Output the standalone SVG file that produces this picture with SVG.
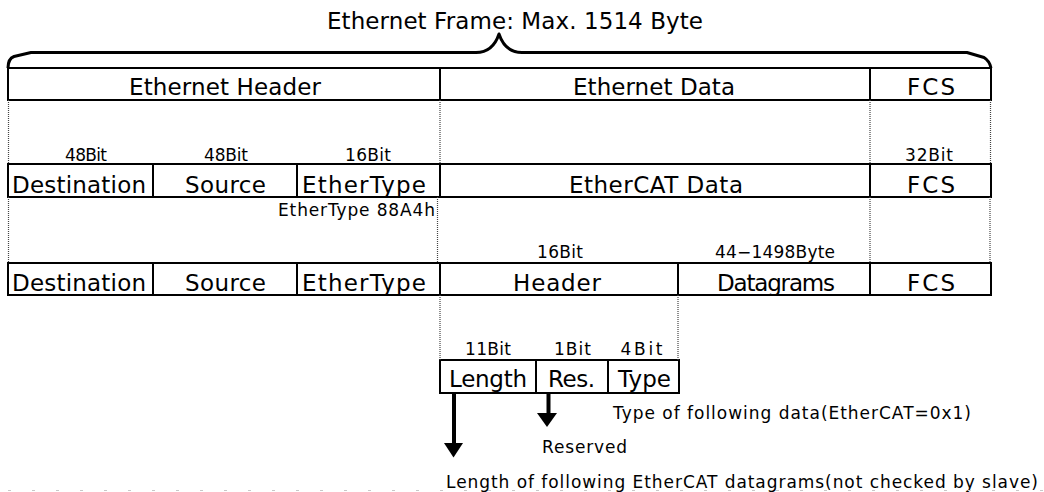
<svg xmlns="http://www.w3.org/2000/svg" width="1044" height="492" viewBox="0 0 1044 492">
<defs>
<style>
.cell{fill:#fff;stroke:#000;stroke-width:2}
.big{font-family:"DejaVu Sans",sans-serif;font-size:23px;fill:#000;text-anchor:middle}
.sm{font-family:"DejaVu Sans",sans-serif;font-size:17px;fill:#000;text-anchor:middle}
.lt{font-family:"DejaVu Sans",sans-serif;font-size:17px;fill:#000;text-anchor:start}
.dot{stroke:#444;stroke-width:1.2;stroke-dasharray:1 1;fill:none}
.arr{stroke:#000;stroke-width:4;fill:none}
</style>
</defs>
<rect width="1044" height="492" fill="#fff"/>

<g id="title">
<text class="big" x="515" y="29" textLength="376" lengthAdjust="spacing">Ethernet Frame: Max. 1514 Byte</text>
</g>
<g id="brace">
<path d="M8,68 C8,61 10,58 14,56.5 L31,52.5 L476,52.5 C488,52.5 495,46 499,34 C503,46 510,52.5 522,52.5 L967,52.5 L984,57.5 C988,60 990,63 991,68" fill="none" stroke="#000" stroke-width="3" stroke-linejoin="round"/>
</g>

<g id="eth-header"><rect class="cell" x="8" y="68" width="432" height="32"/><text class="big" x="225" y="95" textLength="192" lengthAdjust="spacing">Ethernet Header</text></g>
<g id="eth-data"><rect class="cell" x="440" y="68" width="430" height="32"/><text class="big" x="654" y="95" textLength="162" lengthAdjust="spacing">Ethernet Data</text></g>
<g id="eth-fcs"><rect class="cell" x="870" y="68" width="121" height="32"/><text class="big" x="931" y="95" textLength="48" lengthAdjust="spacing">FCS</text></g>

<g id="labels-row2">
<text class="sm" x="86" y="160.5" textLength="42" lengthAdjust="spacing">48Bit</text>
<text class="sm" x="226" y="160.5" textLength="44" lengthAdjust="spacing">48Bit</text>
<text class="sm" x="368" y="160.5" textLength="46" lengthAdjust="spacing">16Bit</text>
<text class="sm" x="929" y="160.5" textLength="48" lengthAdjust="spacing">32Bit</text>
</g>

<g id="r2-dest"><rect class="cell" x="8" y="164" width="145" height="33"/><text class="big" x="79" y="192.5" textLength="134" lengthAdjust="spacing">Destination</text></g>
<g id="r2-src"><rect class="cell" x="153" y="164" width="144" height="33"/><text class="big" x="225.5" y="192.5" textLength="81" lengthAdjust="spacing">Source</text></g>
<g id="r2-type"><rect class="cell" x="297" y="164" width="143" height="33"/><text class="big" x="364" y="192.5" textLength="124" lengthAdjust="spacing">EtherType</text></g>
<g id="r2-data"><rect class="cell" x="440" y="164" width="430" height="33"/><text class="big" x="656" y="192.5" textLength="174" lengthAdjust="spacing">EtherCAT Data</text></g>
<g id="r2-fcs"><rect class="cell" x="870" y="164" width="121" height="33"/><text class="big" x="931" y="192.5" textLength="48" lengthAdjust="spacing">FCS</text></g>

<g id="ethertype-note"><text class="sm" x="356.5" y="216" textLength="157" lengthAdjust="spacing">EtherType 88A4h</text></g>

<g id="labels-row3">
<text class="sm" x="560" y="258" textLength="46" lengthAdjust="spacing">16Bit</text>
<text class="sm" x="775" y="258" textLength="120" lengthAdjust="spacing">44−1498Byte</text>
</g>

<g id="r3-dest"><rect class="cell" x="8" y="263" width="145" height="32"/><text class="big" x="79" y="290.5" textLength="134" lengthAdjust="spacing">Destination</text></g>
<g id="r3-src"><rect class="cell" x="153" y="263" width="144" height="32"/><text class="big" x="225.5" y="290.5" textLength="81" lengthAdjust="spacing">Source</text></g>
<g id="r3-type"><rect class="cell" x="297" y="263" width="143" height="32"/><text class="big" x="364" y="290.5" textLength="124" lengthAdjust="spacing">EtherType</text></g>
<g id="r3-header"><rect class="cell" x="440" y="263" width="238" height="32"/><text class="big" x="557" y="290.5" textLength="88" lengthAdjust="spacing">Header</text></g>
<g id="r3-datagrams"><rect class="cell" x="678" y="263" width="192" height="32"/><text class="big" x="776" y="290.5" textLength="118" lengthAdjust="spacing">Datagrams</text></g>
<g id="r3-fcs"><rect class="cell" x="870" y="263" width="121" height="32"/><text class="big" x="931" y="290.5" textLength="48" lengthAdjust="spacing">FCS</text></g>

<g id="labels-sub">
<text class="sm" x="488" y="355" textLength="46" lengthAdjust="spacing">11Bit</text>
<text class="sm" x="572.5" y="355" textLength="37" lengthAdjust="spacing">1Bit</text>
<text class="sm" x="641.5" y="355" textLength="42" lengthAdjust="spacing">4Bit</text>
</g>

<g id="sub-length"><rect class="cell" x="440" y="360" width="96" height="33"/><text class="big" x="488" y="387" textLength="78" lengthAdjust="spacing">Length</text></g>
<g id="sub-res"><rect class="cell" x="536" y="360" width="72" height="33"/><text class="big" x="571.5" y="387" textLength="47" lengthAdjust="spacing">Res.</text></g>
<g id="sub-type"><rect class="cell" x="608" y="360" width="71" height="33"/><text class="big" x="644.5" y="387" textLength="53" lengthAdjust="spacing">Type</text></g>

<g id="note-type"><text class="lt" x="613" y="419" textLength="358" lengthAdjust="spacing">Type of following data(EtherCAT=0x1)</text></g>
<g id="note-reserved"><text class="lt" x="542" y="453" textLength="85" lengthAdjust="spacing">Reserved</text></g>
<g id="note-length"><text class="lt" x="446" y="488" textLength="592" lengthAdjust="spacing">Length of following EtherCAT datagrams(not checked by slave)</text></g>

<g id="connectors">
<path class="dot" d="M8.5,100 V164 M440,100 V164 M870,100 V164 M990.5,100 V164"/>
<path class="dot" d="M8.5,197 V263 M437.5,197 V263 M870,197 V263 M990,197 V263"/>
<path class="dot" d="M440,295 V360 M678,295 V360"/>
<line class="arr" x1="454" y1="393" x2="454" y2="444"/>
<polygon points="444,443 463,443 453.5,457.5" fill="#000"/>
<line class="arr" x1="548.5" y1="393" x2="548.5" y2="414"/>
<polygon points="537,413 557,413 547,427" fill="#000"/>
</g>

<g id="footer-rule">
<line x1="0" y1="490.5" x2="1044" y2="490.5" stroke="#c8c8c8" stroke-width="1" stroke-dasharray="3 21" stroke-dashoffset="-8"/>
</g>
</svg>
